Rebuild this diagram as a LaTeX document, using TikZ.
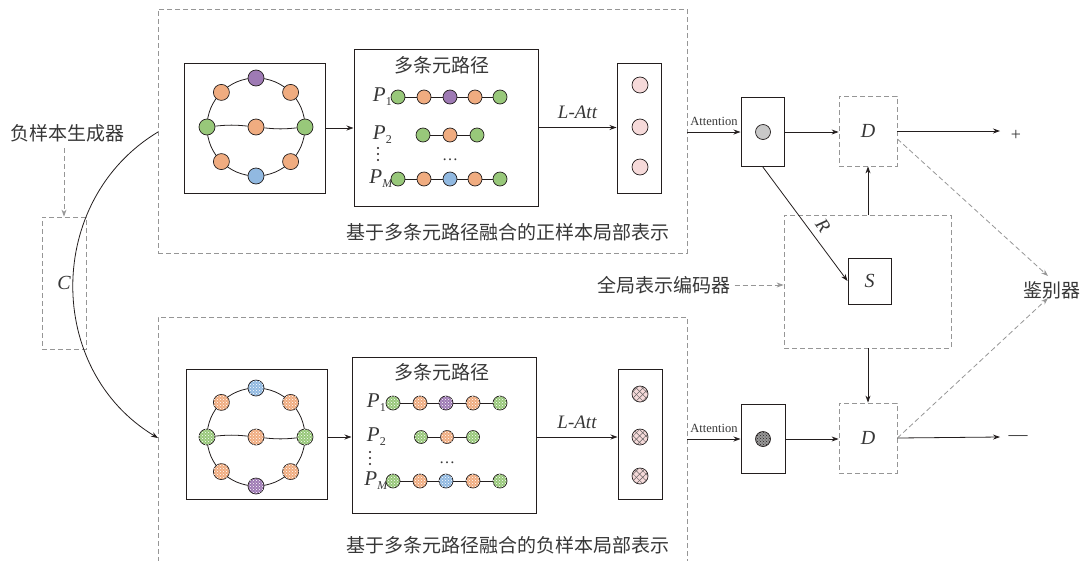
\documentclass[tikz,border=0pt]{standalone}
\usepackage{fontspec}
\setmainfont{Liberation Serif}
\newfontfamily\cjk{Noto Sans CJK SC}
\usetikzlibrary{arrows.meta,patterns,patterns.meta,calc}
\definecolor{linec}{RGB}{35,30,30}
\definecolor{dgray}{RGB}{150,150,150}
\definecolor{textc}{RGB}{55,55,55}
\definecolor{cgreen}{RGB}{152,200,122}
\definecolor{corange}{RGB}{240,172,128}
\definecolor{cpurple}{RGB}{158,122,180}
\definecolor{cblue}{RGB}{145,185,225}
\definecolor{cpink}{RGB}{246,218,218}
\definecolor{cgray}{RGB}{200,200,200}
\newcommand{\Psub}[1]{\textit{P}\raisebox{-0.2em}{\fontsize{12}{12}\selectfont #1}}
\begin{document}
\begin{tikzpicture}[x=1pt,y=-1pt,
  line/.style={draw=linec, line width=0.8pt},
  box/.style={draw=linec, line width=1pt, rectangle, inner sep=0pt},
  dbox/.style={draw=dgray, line width=0.8pt, dash pattern=on 5pt off 3pt, rectangle, inner sep=0pt},
  arr/.style={draw=linec, line width=0.8pt, -{Stealth[length=7pt,width=5pt]}},
  darr/.style={draw=dgray, line width=0.8pt, dash pattern=on 5pt off 3pt, -{Stealth[length=7pt,width=5pt]}},
  gn/.style={circle, draw=linec, line width=0.7pt, minimum size=16pt, inner sep=0pt},
  pn/.style={circle, draw=linec, line width=0.7pt, minimum size=14pt, inner sep=0pt},
  tex/.style={postaction={pattern=crosshatch dots, pattern color=white}},
  hatch/.style={postaction={pattern={Lines[angle=45,distance=4.5pt,line width=0.5pt]}, pattern color=linec!70},
                postaction={pattern={Lines[angle=-45,distance=4.5pt,line width=0.5pt]}, pattern color=linec!70}},
  cn/.style={font=\cjk\fontsize{19}{22}\selectfont, text=textc, inner sep=0pt},
  lt/.style={font=\fontsize{20}{22}\selectfont\itshape, text=textc, inner sep=0pt},
  att/.style={font=\fontsize{12.5}{14}\selectfont, text=textc, inner sep=0pt},
  pl/.style={font=\fontsize{21}{22}\selectfont, text=textc, inner sep=0pt, anchor=east}
]
\useasboundingbox (0,0) rectangle (1083,560);

% dashed containers
\node[dbox, minimum width=529pt, minimum height=244pt] (T) at (422.5,131) {};
\node[dbox, minimum width=529pt, minimum height=270pt] (B) at (422.5,452) {};
\node[dbox, minimum width=167pt, minimum height=133pt] (M) at (867.5,281.5) {};
\node[dbox, minimum width=44pt, minimum height=132pt] (C) at (64,283) {};
\node[dbox, minimum width=58pt, minimum height=70pt] (d1) at (868,131) {};
\node[dbox, minimum width=58pt, minimum height=70pt] (d2) at (868,438) {};
\node[lt] at (C) {C};
\node[lt] at (d1) {D};
\node[lt] at (d2) {D};

% top boxes
\node[box, minimum width=141pt, minimum height=130pt] (g1) at (254.5,128) {};
\node[box, minimum width=184pt, minimum height=157pt] (p1) at (446,127.5) {};
\node[box, minimum width=44pt, minimum height=130pt] (v1) at (639,128) {};
\node[box, minimum width=43pt, minimum height=69pt] (s1) at (762.5,131.5) {};
% bottom boxes
\node[box, minimum width=141pt, minimum height=130pt] (g2) at (256.5,434) {};
\node[box, minimum width=184pt, minimum height=156pt] (p2) at (444,435) {};
\node[box, minimum width=44pt, minimum height=130pt] (v2) at (640,434) {};
\node[box, minimum width=44pt, minimum height=69pt] (s2) at (763,438.5) {};
% S box
\node[box, minimum width=43pt, minimum height=46pt] (S) at (869.5,281) {};
\node[lt] at (S) {S};

% top graph
\draw[line] (256,127) circle[radius=49];
\node[gn, fill=cpurple] (a1) at (256,78) {};
\node[gn, fill=corange] (a2) at (221.4,92.4) {};
\node[gn, fill=corange] (a3) at (290.6,92.4) {};
\node[gn, fill=cgreen]  (a4) at (207,127) {};
\node[gn, fill=corange] (a5) at (256,127) {};
\node[gn, fill=cgreen]  (a6) at (305,127) {};
\node[gn, fill=corange] (a7) at (221.4,161.6) {};
\node[gn, fill=corange] (a8) at (290.6,161.6) {};
\node[gn, fill=cblue]   (a9) at (256,176) {};
\draw[line] (a4) to[bend left=6] (a5);
\draw[line] (a5) to[bend right=6] (a6);

% bottom graph
\draw[line] (256,437) circle[radius=49];
\node[gn, fill=cblue, tex]   (b1) at (256,388) {};
\node[gn, fill=corange, tex] (b2) at (221.4,402.4) {};
\node[gn, fill=corange, tex] (b3) at (290.6,402.4) {};
\node[gn, fill=cgreen, tex]  (b4) at (207,437) {};
\node[gn, fill=corange, tex] (b5) at (256,437) {};
\node[gn, fill=cgreen, tex]  (b6) at (305,437) {};
\node[gn, fill=corange, tex] (b7) at (221.4,471.6) {};
\node[gn, fill=corange, tex] (b8) at (290.6,471.6) {};
\node[gn, fill=cpurple, tex] (b9) at (256,486) {};
\draw[line] (b4) to[bend left=6] (b5);
\draw[line] (b5) to[bend right=6] (b6);

% top paths
\node[cn] at (442,65) {多条元路径};
\node[pl] at (392,97) {\Psub{1}};
\node[pl] at (392,135) {\Psub{2}};
\node[pl] at (393,179) {\Psub{\textit{M}}};
\foreach \i/\x/\c in {1/398/cgreen,2/424/corange,3/450/cpurple,4/475/corange,5/500/cgreen}
  \node[pn, fill=\c] (q1\i) at (\x,97) {};
\foreach \i/\x/\c in {1/423/cgreen,2/450/corange,3/477/cgreen}
  \node[pn, fill=\c] (q2\i) at (\x,135) {};
\foreach \i/\x/\c in {1/398/cgreen,2/424/corange,3/450/cblue,4/475/corange,5/500/cgreen}
  \node[pn, fill=\c] (q3\i) at (\x,179) {};
\foreach \a/\b in {1/2,2/3,3/4,4/5} {
  \draw[line] (q1\a) -- (q1\b);
  \draw[line] (q3\a) -- (q3\b);
}
\foreach \a/\b in {1/2,2/3} \draw[line] (q2\a) -- (q2\b);
\foreach \y in {148,154,160} \fill[linec] (378,\y) circle[radius=1.1];
\node[font=\fontsize{16}{16}\selectfont, text=textc, inner sep=0pt] at (450,160) {\ldots};

% bottom paths
\node[cn] at (442,372) {多条元路径};
\node[pl] at (386,403) {\Psub{1}};
\node[pl] at (386,437) {\Psub{2}};
\node[pl] at (388,481) {\Psub{\textit{M}}};
\foreach \i/\x/\c in {1/393/cgreen,2/420/corange,3/446/cpurple,4/473/corange,5/500/cgreen}
  \node[pn, fill=\c, tex] (r1\i) at (\x,403) {};
\foreach \i/\x/\c in {1/421/cgreen,2/447/corange,3/473/cgreen}
  \node[pn, minimum size=13pt, fill=\c, tex] (r2\i) at (\x,437) {};
\foreach \i/\x/\c in {1/393/cgreen,2/420/corange,3/446/cblue,4/473/corange,5/500/cgreen}
  \node[pn, fill=\c, tex] (r3\i) at (\x,481) {};
\foreach \a/\b in {1/2,2/3,3/4,4/5} {
  \draw[line] (r1\a) -- (r1\b);
  \draw[line] (r3\a) -- (r3\b);
}
\foreach \a/\b in {1/2,2/3} \draw[line] (r2\a) -- (r2\b);
\foreach \y in {452,458,464} \fill[linec] (370,\y) circle[radius=1.1];
\node[font=\fontsize{16}{16}\selectfont, text=textc, inner sep=0pt] at (447,463) {\ldots};

% vector circles
\foreach \i/\y in {1/85,2/127,3/167}
  \node[gn, fill=cpink] (u\i) at (640,\y) {};
\foreach \i/\y in {1/394,2/437,3/476}
  \node[gn, fill=cpink, hatch] (w\i) at (640,\y) {};
\node[gn, minimum size=15pt, fill=cgray] (e1) at (763,132) {};
\node[gn, minimum size=15pt, fill=gray!80, postaction={pattern=crosshatch dots, pattern color=linec}] (e2) at (763,439) {};

% captions
\node[cn] at (508,232) {基于多条元路径融合的正样本局部表示};
\node[cn] at (508,545) {基于多条元路径融合的负样本局部表示};

% arrows top
\draw[arr] (g1.east) -- (p1.west |- g1.east);
\draw[arr] (p1.east) -- node[lt, font=\fontsize{19}{20}\selectfont\itshape, above=8pt] {L-Att} (v1.west |- p1.east);
\draw[arr] (T.east |- e1) -- node[att, above=6pt] {Attention} (s1.west |- e1);
\draw[arr] (s1.east |- e1) -- (d1.west |- e1);
\coordinate (pend) at (1000,131);
\draw[arr] (d1.east) -- (pend);
\node[font=\fontsize{18}{18}\selectfont, text=textc, inner sep=0pt] (plus) at (1016,135) {+};

% arrows bottom
\draw[arr] (g2.east |- b5) -- (p2.west |- b5);
\draw[arr] (p2.east |- w2) -- node[lt, font=\fontsize{19}{20}\selectfont\itshape, above=8pt] {L-Att} (v2.west |- w2);
\draw[arr] (B.east |- e2) -- node[att, above=6pt] {Attention} (s2.west |- e2);
\draw[arr] (s2.east |- e2) -- (d2.west |- e2);
\coordinate (mend) at (1000,437);
\draw[arr] (d2.east) -- (mend);
\node[font=\fontsize{19}{19}\selectfont, text=textc, inner sep=0pt] (minus) at (1018,438) {—};

% R and encoder
\draw[arr] (s1.south) -- (S.west);
\node[lt, font=\fontsize{19}{20}\selectfont\itshape, rotate=-55] at (823,226) {R};
\draw[arr] (M.north -| d1) -- (d1.south);
\draw[arr] (M.south -| d2) -- (d2.north);
\node[cn] (enc) at (664,285) {全局表示编码器};
\draw[darr] (enc.east) ++(4,0) coordinate (encs) (encs) -- (M.west |- encs);

% discriminator
\node[cn] (J) at (1052,290) {鉴别器};
\coordinate (j1) at (1048,276);
\coordinate (j2) at (1048,298);
\draw[darr] ($(d1.east)+(0,8)$) -- (j1);
\draw[darr] (d2.east) -- (j2);

% generator
\node[cn] (N) at (67,133) {负样本生成器};
\draw[darr] (N.south -| C) ++(0,6) coordinate (ns) (ns) -- (C.north);
\coordinate (cst) at (158,132);
\coordinate (cen) at (158,438);
\draw[arr] (cst) .. controls (45,200) and (45,370) .. (cen);
\end{tikzpicture}
\end{document}
